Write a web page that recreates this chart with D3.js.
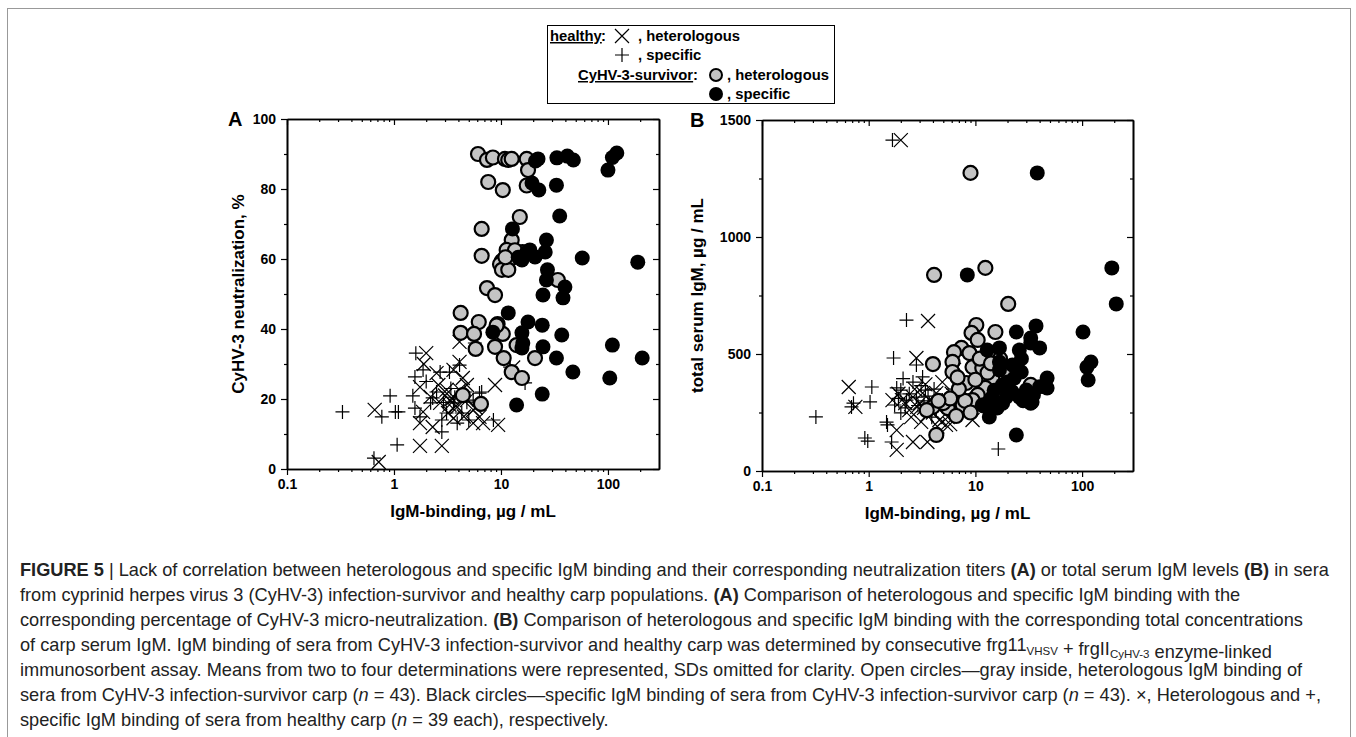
<!DOCTYPE html>
<html>
<head>
<meta charset="utf-8">
<script src="https://cdn.jsdelivr.net/npm/d3@7"></script>
<style>
body { margin: 0; background: #fff; }
svg { display: block; }
</style>
</head>
<body>
<div id="chart"></div>
<script>
// IgM binding (ug/mL) vs neutralization % -- panel A
var healthyHetA = [[0.66,16.9],[0.72,2],[1.75,6.6],[2.8,6.6],[1.75,13.1],[2.0,33.1],[1.75,23.4],[2.5,27.4],[3.1,22.6],[3.3,19.7],
  [3.6,28.3],[4.1,36.3],[4.1,30.6],[4.4,26],[4.8,19.7],[5.5,16.9],[5.5,13.1],[6.3,14.9],[6.8,13.1],[8.8,24],
  [9.4,12.6],[13,29],[2.2,20.6],[1.87,16.3],[2.7,18.9],[3.3,18.3],[3.9,17.7],[4.1,22.6],[3.0,21],[3.5,20],
  [3.8,18],[2.6,24],[4.5,15],[3.2,16],[4.8,24],[5.8,17.5],[2.3,12],[3.6,14.5],[1.9,30]];
var healthySpecA = [[0.33,16.3],[0.77,14.9],[0.92,20.9],[1.03,16.3],[1.1,16.3],[1.07,6.9],[0.65,3.1],[1.6,33.1],[1.57,26.3],[1.87,28.3],
  [1.5,20.9],[1.57,17.4],[1.75,14.9],[2.3,20.3],[2.7,27.7],[3.3,27.7],[2.8,14],[2.8,10.6],[4.1,29.7],[4.8,19.1],
  [3.9,13.1],[6.3,21.7],[5.7,36],[5.5,19.7],[12.2,29.1],[16.8,24.6],[3.1,16],[3.6,18.9],[2.2,18.9],[2.5,22],
  [3.4,23],[4.3,16],[5,14],[2,25],[3.7,20.5],[4.6,22],[6.6,22],[2.9,19],[8.5,14]];
var survHetA = [[6.1,90],[7.4,88.3],[8.4,89],[10.9,88.6],[11.7,88.3],[12.6,88.6],[17.4,88.6],[17.9,85.4],[7.6,82],[10.4,79.7],
  [17.4,81],[15,72],[6.6,68.6],[12.6,65.4],[11.3,62.6],[15.9,62],[6.6,60.9],[10.2,59.4],[12.6,60.3],[9.8,58.5],
  [10.2,56.9],[11.7,56.9],[7.4,51.7],[8.8,49.7],[34,54],[4.2,44.6],[6.2,42],[9.3,41.4],[4.2,38.9],[5.6,38.6],
  [10.4,38.6],[8.8,34.9],[5.8,34.3],[14,35.4],[10.6,31.7],[20.8,31.7],[12.6,27.7],[15.7,26],[4.4,21.1],[6.5,18.6],
  [9.1,41],[13.5,62.5],[11,60.5]];
var survSpecA = [[22.2,88.6],[33.3,88.9],[41.7,89.4],[47.5,88.3],[100,85.4],[110,89],[121,90.3],[19.5,81.7],[22.6,79.7],[33,81.1],
  [35.4,72.3],[12.8,68.6],[26.6,65.4],[18.6,62.6],[15.7,59.7],[20.8,60.6],[25.9,62],[57.5,60.3],[190,59.1],[27.2,56.9],
  [26.6,54],[39.6,52],[24.7,49.7],[38,48.9],[11.7,44.6],[17.9,42],[24.3,41.1],[37,38.3],[15.7,38.9],[16,36],
  [15.7,34.6],[24.7,34.9],[33,31.7],[47,27.7],[104,26],[110,35.4],[209,31.7],[24.3,21.4],[14,18.3],[8.4,39.1],
  [17.4,62],[14.5,60.5],[21,88]];

// IgM binding (ug/mL) vs total serum IgM (ug/mL) -- panel B
var healthyHetB = [[2,1414],[3.6,641],[0.65,359],[0.75,274],[2.8,483],[1.83,90],[1.83,175],[2.6,124],[3.55,124],[2.05,303],
  [2.85,274],[3.5,239],[4.6,218],[4.9,380],[6.3,432],[9.4,218],[5.3,197],[6.7,261],[4.3,333],[1.67,303],
  [3.2,333],[2.6,316],[2.2,290],[2.4,260],[3,290],[3.3,270],[3.8,300],[4,250],[2.7,350],[3.4,370],
  [4.2,280],[5.5,230],[6,330],[7.5,300],[1.9,330],[2.5,230],[4.4,190],[3.1,210],[5.8,200]];
var healthySpecB = [[1.67,1414],[0.32,231],[0.72,290],[0.69,274],[1.07,359],[1.03,295],[0.92,141],[0.98,128],[2.26,645],[1.71,483],
  [1.83,355],[2.0,346],[1.75,282],[1.47,209],[1.5,197],[1.64,124],[2.8,453],[3.2,402],[2.8,316],[3.4,346],
  [3.7,290],[4.9,303],[4.3,261],[16.4,94],[2.26,303],[2.0,248],[2.4,330],[2.9,280],[3.1,365],[3.6,320],
  [4.1,350],[2.2,270],[1.9,310],[2.6,380],[3.9,230],[5.2,270],[2.1,395],[3.3,300],[6.2,350]];
var survHetB = [[9,1274],[4.1,838],[12.4,868],[20.3,714],[10.2,624],[9.2,590],[10.5,560],[15.4,594],[7.4,526],[6.3,508],
  [8.8,504],[4,457],[6.1,466],[6.1,423],[9.4,444],[11.6,440],[12.7,393],[14.4,397],[8.2,376],[12.4,355],
  [10.5,325],[9.4,303],[7.6,282],[5.5,269],[6.6,235],[4.3,154],[4.0,274],[33,368],[3.5,260],[5,290],
  [8,300],[11,480],[13,420],[10,390],[7,350],[17,480],[12,280],[9,250],[5.8,310],[14,460],
  [4.5,300],[6.8,400],[20,420]];
var survSpecB = [[38,1274],[8.4,838],[190,868],[209,714],[102,594],[121,466],[111,444],[114,389],[37,620],[33,547],
  [40,526],[47,397],[47,355],[35,325],[33,290],[24.2,594],[33,568],[25.8,517],[16.8,526],[12.9,517],
  [16.8,466],[22.2,453],[26.9,423],[16.8,432],[23.1,397],[17.9,368],[30,346],[34,295],[25.8,316],[19.5,316],
  [14.4,316],[13.5,290],[16,269],[13.5,231],[11.6,282],[24.2,154],[20,380],[28,300],[18,290],[22,340],
  [15,345],[40,360],[27,480]];

var xMajor = [0.1, 1, 10, 100];
var xMinor = [0.2,0.3,0.4,0.5,0.6,0.7,0.8,0.9,2,3,4,5,6,7,8,9,20,30,40,50,60,70,80,90,200];
var yMajorA = [0, 20, 40, 60, 80, 100], yMinorA = [10, 30, 50, 70, 90];
var yMajorB = [0, 500, 1000, 1500], yMinorB = [250, 750, 1250];

var W = 1356, H = 737;
var FONT = '"Liberation Sans", Arial, sans-serif';

var svg = d3.select('#chart').append('svg')
  .attr('width', W).attr('height', H)
  .style('background', '#fff');

// outer frame
svg.append('rect')
  .attr('x', 7.5).attr('y', 8.5).attr('width', 1343).attr('height', 760)
  .attr('fill', 'none').attr('stroke', '#999').attr('stroke-width', 1);

var crossPath = 'M-7,-7L7,7M-7,7L7,-7';
var plusPath = 'M-7,0H7M0,-7V7';

function styleAxis(a, labels) {
  a.select('.domain').attr('stroke', '#000').attr('stroke-width', 1.6);
  a.selectAll('.tick line').attr('stroke', '#000').attr('stroke-width', 1.2);
  a.selectAll('.tick text').attr('font-family', FONT).attr('font-weight', 'bold')
    .attr('font-size', 14).attr('fill', '#000');
  if (!labels) a.selectAll('.tick text').remove();
}
var plain = function(d) { return String(d); };

function panel(o) {
  var x = d3.scaleLog().domain([0.1, 300]).range([0, o.w]);
  var y = d3.scaleLinear().domain(o.yDomain).range([o.h, 0]);
  var g = svg.append('g').attr('transform', 'translate(' + o.left + ',' + o.top + ')');

  // markers: healthy first, survivors over them
  g.selectAll('.hh').data(o.hh).enter().append('path')
    .attr('d', crossPath).attr('fill', 'none').attr('stroke', '#000').attr('stroke-width', 1.2)
    .attr('transform', function(d) { return 'translate(' + x(d[0]) + ',' + y(d[1]) + ')'; });
  g.selectAll('.hs').data(o.hs).enter().append('path')
    .attr('d', plusPath).attr('fill', 'none').attr('stroke', '#000').attr('stroke-width', 1.2)
    .attr('transform', function(d) { return 'translate(' + x(d[0]) + ',' + y(d[1]) + ')'; });
  g.selectAll('.sh').data(o.sh).enter().append('circle')
    .attr('r', 7).attr('fill', '#c4c4c4').attr('stroke', '#000').attr('stroke-width', 2.2)
    .attr('cx', function(d) { return x(d[0]); }).attr('cy', function(d) { return y(d[1]); });
  g.selectAll('.ss').data(o.ss).enter().append('circle')
    .attr('r', 7.5).attr('fill', '#000')
    .attr('cx', function(d) { return x(d[0]); }).attr('cy', function(d) { return y(d[1]); });

  // axes: bottom/left with labels, top/right mirrored inward
  var ab = g.append('g').attr('transform', 'translate(0,' + o.h + ')')
    .call(d3.axisBottom(x).tickValues(xMajor).tickSize(6).tickSizeOuter(0).tickPadding(4).tickFormat(plain));
  styleAxis(ab, true);
  var abm = g.append('g').attr('transform', 'translate(0,' + o.h + ')')
    .call(d3.axisBottom(x).tickValues(xMinor).tickSize(3).tickSizeOuter(0));
  styleAxis(abm, false);
  var at = g.append('g').call(d3.axisTop(x).tickValues(xMajor).tickSize(-6).tickSizeOuter(0));
  styleAxis(at, false);
  var atm = g.append('g').call(d3.axisTop(x).tickValues(xMinor).tickSize(-3).tickSizeOuter(0));
  styleAxis(atm, false);

  var al = g.append('g')
    .call(d3.axisLeft(y).tickValues(o.yMajor).tickSize(6).tickSizeOuter(0).tickPadding(5).tickFormat(plain));
  styleAxis(al, true);
  var alm = g.append('g').call(d3.axisLeft(y).tickValues(o.yMinor).tickSize(3).tickSizeOuter(0));
  styleAxis(alm, false);
  var ar = g.append('g').attr('transform', 'translate(' + o.w + ',0)')
    .call(d3.axisRight(y).tickValues(o.yMajor).tickSize(-6).tickSizeOuter(0));
  styleAxis(ar, false);
  var arm = g.append('g').attr('transform', 'translate(' + o.w + ',0)')
    .call(d3.axisRight(y).tickValues(o.yMinor).tickSize(-3).tickSizeOuter(0));
  styleAxis(arm, false);

  // titles
  g.append('text').attr('x', o.w / 2).attr('y', o.h + 48)
    .attr('text-anchor', 'middle').attr('font-family', FONT).attr('font-weight', 'bold')
    .attr('font-size', 17).text('IgM-binding, \u00b5g / mL');
  g.append('text').attr('transform', 'translate(' + o.ytx + ',' + (o.h / 2) + ') rotate(-90)')
    .attr('text-anchor', 'middle').attr('font-family', FONT).attr('font-weight', 'bold')
    .attr('font-size', 17).text(o.ytitle);
  g.append('text').attr('x', o.ltx).attr('y', 7)
    .attr('font-family', FONT).attr('font-weight', 'bold').attr('font-size', 20).text(o.letter);
}

panel({ left: 287, top: 119, w: 372, h: 350, yDomain: [0, 100], yMajor: yMajorA, yMinor: yMinorA,
  hh: healthyHetA, hs: healthySpecA, sh: survHetA, ss: survSpecA,
  ytitle: 'CyHV-3 neutralization, %', ytx: -43, letter: 'A', ltx: -59 });
panel({ left: 762, top: 120, w: 371, h: 351, yDomain: [0, 1500], yMajor: yMajorB, yMinor: yMinorB,
  hh: healthyHetB, hs: healthySpecB, sh: survHetB, ss: survSpecB,
  ytitle: 'total serum IgM, \u00b5g / mL', ytx: -59, letter: 'B', ltx: -72 });

// legend
var lg = svg.append('g').attr('font-family', FONT).attr('font-weight', 'bold').attr('font-size', 14.8);
lg.append('rect').attr('x', 547.5).attr('y', 25.5).attr('width', 287).attr('height', 78)
  .attr('fill', '#fff').attr('stroke', '#000').attr('stroke-width', 1);
lg.append('text').attr('x', 550).attr('y', 41).attr('text-decoration', 'underline').text('healthy');
lg.append('text').attr('x', 601).attr('y', 41).text(':');
lg.append('path').attr('d', crossPath).attr('transform', 'translate(622,36)')
  .attr('stroke', '#000').attr('stroke-width', 1.2).attr('fill', 'none');
lg.append('text').attr('x', 638).attr('y', 41).text(', heterologous');
lg.append('path').attr('d', plusPath).attr('transform', 'translate(622,55)')
  .attr('stroke', '#000').attr('stroke-width', 1.2).attr('fill', 'none');
lg.append('text').attr('x', 638).attr('y', 60).text(', specific');
lg.append('text').attr('x', 578).attr('y', 80).attr('text-decoration', 'underline').text('CyHV-3-survivor');
lg.append('text').attr('x', 693).attr('y', 80).text(':');
lg.append('circle').attr('cx', 716).attr('cy', 75).attr('r', 6).attr('fill', '#c4c4c4')
  .attr('stroke', '#000').attr('stroke-width', 2);
lg.append('text').attr('x', 727).attr('y', 80).text(', heterologous');
lg.append('circle').attr('cx', 716).attr('cy', 94).attr('r', 7).attr('fill', '#000');
lg.append('text').attr('x', 727).attr('y', 99).text(', specific');

// caption
var caption = [
  [['FIGURE 5', 'b'], [' | Lack of correlation between heterologous and specific IgM binding and their corresponding neutralization titers '], ['(A)', 'b'], [' or total serum IgM levels '], ['(B)', 'b'], [' in sera']],
  [['from cyprinid herpes virus 3 (CyHV-3) infection-survivor and healthy carp populations. '], ['(A)', 'b'], [' Comparison of heterologous and specific IgM binding with the']],
  [['corresponding percentage of CyHV-3 micro-neutralization. '], ['(B)', 'b'], [' Comparison of heterologous and specific IgM binding with the corresponding total concentrations']],
  [['of carp serum IgM. IgM binding of sera from CyHV-3 infection-survivor and healthy carp was determined by consecutive frg11'], ['VHSV', 's'], [' + frgII'], ['CyHV-3', 's'], [' enzyme-linked']],
  [['immunosorbent assay. Means from two to four determinations were represented, SDs omitted for clarity. Open circles\u2014gray inside, heterologous IgM binding of']],
  [['sera from CyHV-3 infection-survivor carp ('], ['n', 'i'], [' = 43). Black circles\u2014specific IgM binding of sera from CyHV-3 infection-survivor carp ('], ['n', 'i'], [' = 43). \u00d7, Heterologous and +,']],
  [['specific IgM binding of sera from healthy carp ('], ['n', 'i'], [' = 39 each), respectively.']]
];
var cap = svg.append('g').attr('font-family', FONT).attr('font-size', 18.2).attr('fill', '#222');
caption.forEach(function(line, i) {
  var t = cap.append('text').attr('x', 20).attr('y', 576 + i * 25);
  line.forEach(function(seg) {
    var s = t.append('tspan').text(seg[0]);
    if (seg[1] === 'b') s.attr('font-weight', 'bold');
    if (seg[1] === 'i') s.attr('font-style', 'italic');
    if (seg[1] === 's') s.attr('font-size', 11.5).attr('dy', 3.5);
    if (seg[1] === 's') t.append('tspan').attr('dy', -3.5).text('');
  });
});
</script>
</body>
</html>
